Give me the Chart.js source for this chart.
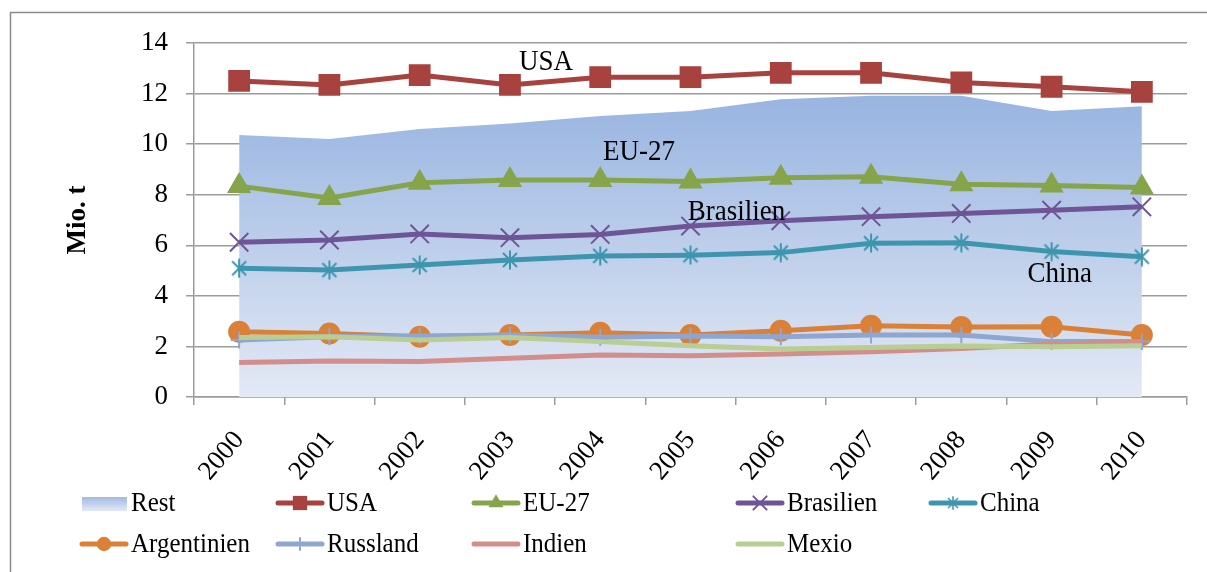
<!DOCTYPE html>
<html>
<head>
<meta charset="utf-8">
<script src="https://cdn.jsdelivr.net/npm/chart.js@4.4.1/dist/chart.umd.min.js"></script>
<style>
  html, body { margin: 0; padding: 0; background: #fff; }
  #wrap { width: 1207px; height: 572px; position: relative; }
</style>
</head>
<body>
<div id="wrap"><canvas id="myChart"></canvas></div>
<script>
  // data (Mio. t)
  const years = ['2000', '2001', '2002', '2003', '2004', '2005', '2006', '2007', '2008', '2009', '2010'];
  const yTicks = [0, 2, 4, 6, 8, 10, 12, 14];

  const Rest = [10.36, 10.2, 10.6, 10.82, 11.11, 11.31, 11.78, 11.91, 11.91, 11.31, 11.5];
  const USA = [12.5, 12.34, 12.73, 12.34, 12.65, 12.65, 12.82, 12.82, 12.44, 12.27, 12.07];
  const EU27 = [8.34, 7.87, 8.47, 8.58, 8.58, 8.52, 8.67, 8.71, 8.41, 8.36, 8.29];
  const Brasilien = [6.12, 6.21, 6.45, 6.3, 6.43, 6.76, 6.97, 7.13, 7.26, 7.39, 7.52];
  const China = [5.09, 5.02, 5.22, 5.42, 5.58, 5.61, 5.71, 6.08, 6.1, 5.75, 5.55];
  const Argentinien = [2.58, 2.51, 2.38, 2.45, 2.54, 2.45, 2.62, 2.82, 2.77, 2.78, 2.45];
  const Russland = [2.25, 2.38, 2.41, 2.45, 2.36, 2.41, 2.38, 2.45, 2.45, 2.19, 2.19];
  const Indien = [1.36, 1.42, 1.4, 1.53, 1.66, 1.63, 1.7, 1.79, 1.92, 2.1, 2.19];
  const Mexio = [2.35, 2.38, 2.25, 2.35, 2.19, 2.03, 1.9, 1.96, 2.02, 1.99, 2.03];

  const labels = ['Rest', 'USA', 'EU-27', 'Brasilien', 'China', 'Argentinien', 'Russland', 'Indien', 'Mexio'];

  // labels written inside the plot: [text, category position, value]
  const inPlotLabels = [
    ['USA', 3.4, 13.25],
    ['EU-27', 4.43, 9.69],
    ['Brasilien', 5.51, 7.31],
    ['China', 9.09, 4.86]
  ];

  const FONT = "'Liberation Serif', 'Times New Roman', serif";
  const GRID = '#9b9b9b';

  // asterisk marker like the one excel uses (x plus vertical bar)
  function starMarker(color) {
    const c = document.createElement('canvas');
    c.width = 20; c.height = 20;
    const g = c.getContext('2d');
    g.strokeStyle = color;
    g.lineWidth = 2;
    g.beginPath();
    g.moveTo(10, 0.5); g.lineTo(10, 19.5);
    g.moveTo(3, 3); g.lineTo(17, 17);
    g.moveTo(17, 3); g.lineTo(3, 17);
    g.stroke();
    return c;
  }

  function restGradient(chart) {
    const a = chart.chartArea;
    if (!a) return 'rgba(150,180,225,0.8)';
    const g = chart.ctx.createLinearGradient(0, a.top, 0, a.bottom);
    g.addColorStop(0, '#91aede');
    g.addColorStop(0.2, '#9cb7e2');
    g.addColorStop(1, '#e3e9f5');
    return g;
  }

  function line(label, values, color, style, radius) {
    return {
      label: label,
      data: values,
      borderColor: color,
      backgroundColor: color,
      borderWidth: 5,
      tension: 0,
      fill: false,
      pointStyle: style,
      pointRadius: radius,
      pointHoverRadius: radius,
      pointBorderWidth: 2,
      pointBorderColor: color,
      pointBackgroundColor: color
    };
  }

  const chinaStar = starMarker('#3d96ae');

  const data = {
    labels: years,
    datasets: [
      {
        label: labels[0],
        data: Rest,
        borderWidth: 0,
        pointRadius: 0,
        fill: 'origin',
        tension: 0,
        backgroundColor: (ctx) => restGradient(ctx.chart)
      },
      line(labels[1], USA, '#a8423f', 'rect', 14),
      line(labels[2], EU27, '#86a44a', 'triangle', 12),
      line(labels[3], Brasilien, '#6f5595', 'crossRot', 13),
      line(labels[4], China, '#3d96ae', chinaStar, 10),
      line(labels[5], Argentinien, '#da8137', 'circle', 10),
      line(labels[6], Russland, '#8ea6d0', 'cross', 8.5),
      line(labels[7], Indien, '#d38e8c', 'circle', 0),
      line(labels[8], Mexio, '#b8ce92', 'circle', 0)
    ]
  };
  // later series sit on top, like the original
  data.datasets.forEach((d, i) => { d.order = data.datasets.length - i; });

  // small marker drawer for the legend
  function drawMarker(ctx, style, x, y, r, color) {
    ctx.save();
    ctx.fillStyle = color;
    ctx.strokeStyle = color;
    ctx.lineWidth = 2;
    ctx.beginPath();
    if (style === 'rect') {
      const s = r * Math.SQRT1_2;
      ctx.fillRect(x - s, y - s, 2 * s, 2 * s);
    } else if (style === 'triangle') {
      ctx.moveTo(x, y - r);
      ctx.lineTo(x + r * 0.866, y + r / 2);
      ctx.lineTo(x - r * 0.866, y + r / 2);
      ctx.closePath();
      ctx.fill();
    } else if (style === 'circle') {
      ctx.arc(x, y, r, 0, Math.PI * 2);
      ctx.fill();
    } else if (style === 'crossRot') {
      const s = r * Math.SQRT1_2;
      ctx.moveTo(x - s, y - s); ctx.lineTo(x + s, y + s);
      ctx.moveTo(x + s, y - s); ctx.lineTo(x - s, y + s);
      ctx.stroke();
    } else if (style === 'cross') {
      ctx.moveTo(x, y - r); ctx.lineTo(x, y + r);
      ctx.stroke();
    } else if (style instanceof HTMLCanvasElement) {
      const w = style.width * r / 10, h = style.height * r / 10;
      ctx.drawImage(style, x - w / 2, y - h / 2, w, h);
    }
    ctx.restore();
  }

  // text a bit taller than wide, as in the original
  function tallText(ctx, t, x, y) {
    ctx.save();
    ctx.translate(x, y);
    ctx.scale(1, 1.1);
    ctx.fillText(t, 0, 0);
    ctx.restore();
  }

  // legend laid out in fixed columns like the original
  const legendCols = [80, 276, 472, 736, 929];
  const legendRows = [503, 544];

  const extrasPlugin = {
    id: 'extras',
    afterDatasetsDraw(chart) {
      const ctx = chart.ctx;
      const xs = chart.scales.x, ys = chart.scales.y;
      ctx.save();
      ctx.fillStyle = '#000';
      ctx.font = '27px ' + FONT;
      ctx.textAlign = 'center';
      ctx.textBaseline = 'middle';
      inPlotLabels.forEach(([t, cx, v]) => {
        tallText(ctx, t, xs.getPixelForValue(cx), ys.getPixelForValue(v));
      });
      ctx.restore();
    },
    afterDraw(chart) {
      const ctx = chart.ctx;
      ctx.save();
      // outer frame
      ctx.strokeStyle = '#8a8a8a';
      ctx.lineWidth = 1.5;
      ctx.strokeRect(10.5, 12.5, 1400, 800);

      ctx.font = '25px ' + FONT;
      ctx.textBaseline = 'middle';
      ctx.textAlign = 'left';
      chart.data.datasets.forEach((ds, i) => {
        const col = i % 5, row = Math.floor(i / 5);
        const x = legendCols[col], y = legendRows[row];
        if (i === 0) {
          const g = ctx.createLinearGradient(0, y - 7, 0, y + 7);
          g.addColorStop(0, '#9cb7e2');
          g.addColorStop(1, '#dfe6f4');
          ctx.fillStyle = g;
          ctx.fillRect(x + 2, y - 6, 45, 14);
        } else {
          ctx.strokeStyle = ds.borderColor;
          ctx.lineWidth = 5;
          ctx.lineCap = 'round';
          ctx.beginPath();
          ctx.moveTo(x + 2, y);
          ctx.lineTo(x + 46, y);
          ctx.stroke();
          if (ds.pointRadius > 0) {
            drawMarker(ctx, ds.pointStyle, x + 24, y, ds.pointRadius * 0.72, ds.borderColor);
          }
        }
        ctx.fillStyle = '#000';
        tallText(ctx, ds.label, x + 51, y + 1);
      });
      ctx.restore();
    }
  };

  const config = {
    type: 'line',
    data,
    options: {
      responsive: true,
      maintainAspectRatio: false,
      animation: false,
      layout: { padding: { top: 43, right: 20, left: 0, bottom: 0 } },
      plugins: {
        legend: { display: false },
        tooltip: { enabled: false }
      },
      scales: {
        x: {
          offset: true,
          grid: {
            offset: true,
            drawOnChartArea: false,
            color: GRID,
            lineWidth: 1.5,
            tickLength: 8
          },
          border: { color: GRID, width: 1.5 },
          ticks: {
            color: '#000',
            font: { family: FONT, size: 27 },
            autoSkip: false,
            maxRotation: 50,
            minRotation: 50,
            padding: 20
          },
          afterFit(scale) { scale.height = 175; }
        },
        y: {
          min: 0,
          max: 14,
          afterBuildTicks(scale) { scale.ticks = yTicks.map(v => ({ value: v })); },
          grid: { color: GRID, lineWidth: 1.5, tickLength: 8 },
          border: { color: GRID, width: 1.5 },
          ticks: {
            color: '#000',
            font: { family: FONT, size: 27 },
            padding: 18
          },
          title: {
            display: true,
            text: 'Mio. t',
            color: '#000',
            font: { family: FONT, size: 27, weight: 'bold' },
            padding: { top: 62, bottom: 0 }
          },
          afterFit(scale) { scale.width = 194; }
        }
      }
    },
    plugins: [extrasPlugin]
  };

  const myChart = new Chart(document.getElementById('myChart'), config);
</script>
</body>
</html>
